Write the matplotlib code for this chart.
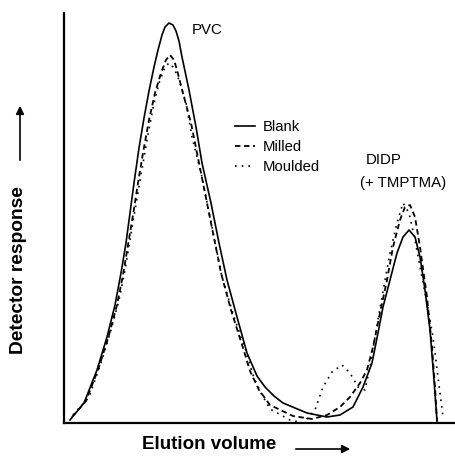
import numpy as np
import matplotlib
matplotlib.use("Agg")
import matplotlib.pyplot as plt

plt.rcParams['font.family'] = ['Liberation Sans', 'DejaVu Sans']

# curves (arbitrary units: elution volume, detector response)
blank_x = [6, 20, 33, 43, 51, 57, 62, 66, 70, 75, 80, 85, 90, 94, 98, 101, 105, 109, 112, 115, 118,
           125, 132, 138, 147, 155, 163, 173, 183, 193, 201, 210, 219, 243, 263, 276, 289, 299, 308,
           314, 319, 326, 333, 339, 345, 351, 356, 361, 366, 370, 373]
blank_y = [3, 20, 53, 86, 118, 150, 180, 210, 240, 275, 305, 332, 356, 373, 388, 396, 400, 398, 392, 382, 366,
           333, 296, 260, 220, 180, 143, 106, 70, 47, 36, 27, 20, 10, 6, 8, 16, 36, 60,
           90, 116, 143, 170, 186, 193, 186, 166, 133, 93, 43, 2]

milled_x = [8, 22, 35, 45, 53, 59, 64, 69, 74, 79, 85, 91, 97, 102, 106, 110, 113, 120, 127, 137,
            147, 157, 167, 180, 186, 195, 206, 229, 248, 263, 276, 286, 296, 303, 309, 316, 323, 329,
            336, 341, 346, 351, 356, 363, 368, 371, 373]
milled_y = [6, 22, 56, 88, 118, 148, 178, 208, 240, 270, 303, 330, 350, 363, 368, 363, 353, 326, 300, 250,
            200, 150, 113, 72, 52, 33, 18, 7, 4, 8, 16, 26, 40, 53, 76, 110, 143, 176,
            203, 216, 218, 206, 176, 126, 76, 36, 2]

moulded_x = [9, 25, 37, 47, 55, 61, 66, 71, 77, 83, 89, 95, 101, 105, 110, 115, 122, 128, 138, 148,
             158, 170, 182, 190, 197, 206, 226, 239, 251, 259, 268, 278, 286, 294, 301, 306, 311, 318,
             326, 333, 339, 345, 351, 356, 363, 369, 374, 379]
moulded_y = [8, 26, 60, 93, 123, 153, 183, 213, 248, 283, 315, 340, 356, 360, 355, 343, 320, 286, 246, 196,
             146, 106, 72, 45, 30, 14, 3, 0, 13, 36, 51, 58, 50, 36, 33, 56, 86, 126,
             170, 200, 220, 210, 183, 156, 120, 86, 46, 6]

series_labels = ['Blank', 'Milled', 'Moulded']

fig = plt.figure(figsize=(4.56, 4.67), dpi=100)
ax = fig.add_axes([64 / 456, 44 / 467, 392 / 456, 410 / 467])

ax.plot(blank_x, blank_y, color='black', lw=1.2, solid_joinstyle='round', label=series_labels[0])
ax.plot(milled_x, milled_y, color='black', lw=1.3, dashes=(3, 2), label=series_labels[1])
ax.plot(moulded_x, moulded_y, color='black', lw=1.2, linestyle=(0, (1, 3)), label=series_labels[2])

ax.set_xlim(0, 392)
ax.set_ylim(0, 410)
ax.set_xticks([])
ax.set_yticks([])
for side in ['top', 'right']:
    ax.spines[side].set_visible(False)
for side in ['left', 'bottom']:
    ax.spines[side].set_linewidth(1.6)

ax.text(128, 393, 'PVC', fontsize=10.8, va='center')
ax.text(302, 263, 'DIDP', fontsize=10.8, va='center')
ax.text(296, 240, '(+ TMPTMA)', fontsize=10.8, va='center')

ax.legend(loc='upper left', bbox_to_anchor=(235 / 456, 1 - 120 / 467),
          bbox_transform=fig.transFigure, frameon=False, fontsize=10.7,
          handlelength=1.35, handletextpad=0.5, labelspacing=0.4,
          borderpad=0, borderaxespad=0)

fig.text(0.459, 0.049, 'Elution volume', fontsize=13.5, fontweight='bold',
         ha='center', va='center')
fig.text(0.040, 0.422, 'Detector response', fontsize=13.8, fontweight='bold',
         ha='center', va='center', rotation=90)

fig.add_artist(matplotlib.patches.FancyArrowPatch(
    (293 / 456, 1 - 449 / 467), (353 / 456, 1 - 449 / 467), transform=fig.transFigure,
    arrowstyle='-|>', mutation_scale=12, color='black', lw=1.2))
fig.add_artist(matplotlib.patches.FancyArrowPatch(
    (20 / 456, 1 - 163 / 467), (20 / 456, 1 - 103 / 467), transform=fig.transFigure,
    arrowstyle='-|>', mutation_scale=12, color='black', lw=1.2))

fig.savefig('out.png', dpi=100)
